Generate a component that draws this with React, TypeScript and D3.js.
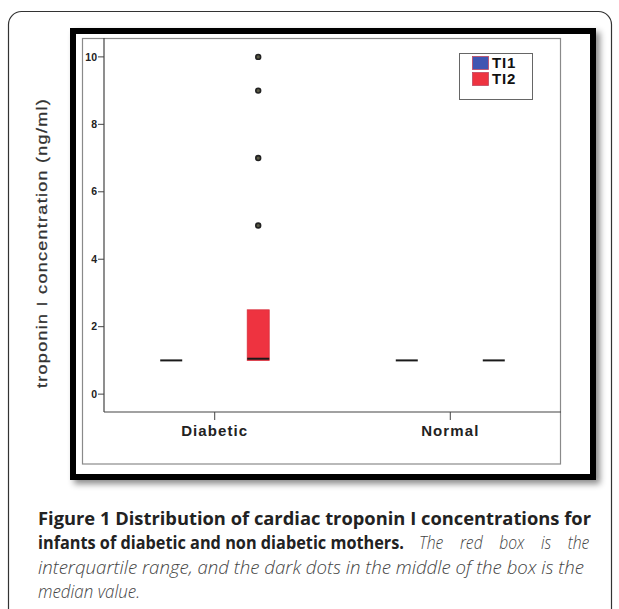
import React from "react";
import * as d3 from "d3";

const categories = ["Diabetic", "Normal"];
const seriesNames = ["TI1", "TI2"];
const seriesColors = ["#3f56b2", "#ee3340"];
// box stats, per category then per series
const boxQ1 = [[1, 1], [1, 1]];
const boxMedian = [[1, 1.05], [1, 1]];
const boxQ3 = [[1, 2.5], [1, 1]];
const outlierCategory = ["Diabetic", "Diabetic", "Diabetic", "Diabetic"];
const outlierSeries = ["TI2", "TI2", "TI2", "TI2"];
const outlierValues = [5, 7, 9, 10];
const yTicks = [0, 2, 4, 6, 8, 10];
const yLabel = "troponin I concentration (ng/ml)";

export default function App() {
  const W = 619, H = 609;
  const plotL = 104, plotR = 561, plotT = 38, plotB = 412;
  const y = d3.scaleLinear().domain([-0.53, 10.56]).range([plotB, plotT]);
  const x = d3.scalePoint<string>().domain(categories).range([plotL, plotR]).padding(0.47);
  const xs = d3.scaleBand<string>().domain(seriesNames).range([-87, 87]);
  const boxW = 22;
  const font = "'Liberation Sans', Arial, sans-serif";
  const cap = "'Open Sans', 'Noto Sans', sans-serif";
  const sx = 0.85;
  const capLeft = 38;
  const L = (px: number) => px / sx;

  return (
    <svg width={W} height={H} style={{ position: "absolute", left: 0, top: 0, display: "block" }}>
      <defs>
        <filter id="sh" x="-5%" y="-5%" width="115%" height="115%">
          <feDropShadow dx="4" dy="4" stdDeviation="3" floodColor="#000" floodOpacity="0.45" />
        </filter>
      </defs>
      <rect x={0} y={0} width={W} height={H} fill="#fff" />
      {/* card */}
      <rect x={8.5} y={11.5} width={603} height={640} rx={13} fill="#fff" stroke="#333" strokeWidth={1.2} />
      {/* thick black frame */}
      <rect x={73} y={31} width={520} height={446} fill="#fff" stroke="#000" strokeWidth={6} filter="url(#sh)" />
      {/* gray inner frame */}
      <rect x={82.5} y={38.5} width={478} height={425.5} fill="#fff" stroke="#8a8a8a" strokeWidth={1.2} />
      {/* axes */}
      <line x1={plotL} x2={plotL} y1={plotT} y2={plotB} stroke="#444" strokeWidth={1.2} />
      <line x1={plotL} x2={plotR} y1={plotB} y2={plotB} stroke="#444" strokeWidth={1.2} />
      {yTicks.map((t) => (
        <g key={t}>
          <line x1={plotL - 6} x2={plotL} y1={y(t)} y2={y(t)} stroke="#444" strokeWidth={1} />
          <text x={plotL - 7} y={y(t)} dy="0.35em" textAnchor="end" fontFamily={font} fontWeight="bold" fontSize={10.5} fill="#222">{t}</text>
        </g>
      ))}
      {categories.map((c) => (
        <g key={c}>
          <line x1={x(c)!} x2={x(c)!} y1={plotB} y2={plotB + 8} stroke="#444" strokeWidth={1} />
          <text x={x(c)!} y={436} textAnchor="middle" fontFamily={font} fontWeight="bold" fontSize={15} letterSpacing={1.1} fill="#222">{c}</text>
        </g>
      ))}
      {/* y label */}
      <text transform={`translate(47,243) rotate(-90)`} textAnchor="middle" fontFamily={font} fontSize={14} letterSpacing={1} fill="#333" stroke="#333" strokeWidth={0.25} textLength={290} lengthAdjust="spacingAndGlyphs">{yLabel}</text>
      {/* boxes */}
      {categories.map((c, ci) =>
        seriesNames.map((s, si) => {
          const cx = x(c)! + xs(s)! + xs.bandwidth() / 2;
          const q1 = boxQ1[ci][si], q3 = boxQ3[ci][si], md = boxMedian[ci][si];
          return (
            <g key={c + s}>
              {q3 > q1 && (
                <rect x={cx - boxW / 2} y={y(q3)} width={boxW} height={y(q1) - y(q3)} fill={seriesColors[si]} stroke="#d8303c" strokeWidth={0.8} />
              )}
              <line x1={cx - boxW / 2} x2={cx + boxW / 2} y1={y(md)} y2={y(md)} stroke="#1a1a1a" strokeWidth={2} />
            </g>
          );
        })
      )}
      {outlierValues.map((v, i) => {
        const cx = x(outlierCategory[i])! + xs(outlierSeries[i])! + xs.bandwidth() / 2;
        return <circle key={i} cx={cx} cy={y(v)} r={2.4} fill="#5a5a45" stroke="#222" strokeWidth={1.6} />;
      })}
      {/* legend */}
      <rect x={459.5} y={53.5} width={73} height={46} fill="#fff" stroke="#666" strokeWidth={1} />
      {seriesNames.map((s, i) => (
        <g key={s}>
          <rect x={472.5} y={56.5 + i * 16} width={16} height={13} fill={seriesColors[i]} stroke="#c04860" strokeWidth={0.8} />
          <text x={492} y={68 + i * 16} fontFamily={font} fontWeight="bold" fontSize={15} letterSpacing={0.8} fill="#111">{s}</text>
        </g>
      ))}
      {/* caption */}
      <g transform={`translate(${capLeft},0) scale(${sx},1)`} fontFamily={cap} fontSize={18.5}>
        <text x={0} y={525} fontWeight="bold" fill="#222" textLength={L(553)} lengthAdjust="spacingAndGlyphs">Figure 1 Distribution of cardiac troponin I concentrations for</text>
        <text x={0} y={549.5} fontWeight="bold" fill="#222" textLength={L(366)} lengthAdjust="spacingAndGlyphs">infants of diabetic and non diabetic mothers.</text>
        <text x={L(419 - capLeft)} y={549.5} fontStyle="italic" fontWeight={300} fill="#444" wordSpacing={L(12.5)}>The red box is the</text>
        <text x={0} y={574} fontStyle="italic" fontWeight={300} fill="#444" textLength={L(546)} lengthAdjust="spacingAndGlyphs">interquartile range, and the dark dots in the middle of the box is the</text>
        <text x={0} y={598.5} fontStyle="italic" fontWeight={300} fill="#444" textLength={L(102)} lengthAdjust="spacingAndGlyphs">median value.</text>
      </g>
    </svg>
  );
}
